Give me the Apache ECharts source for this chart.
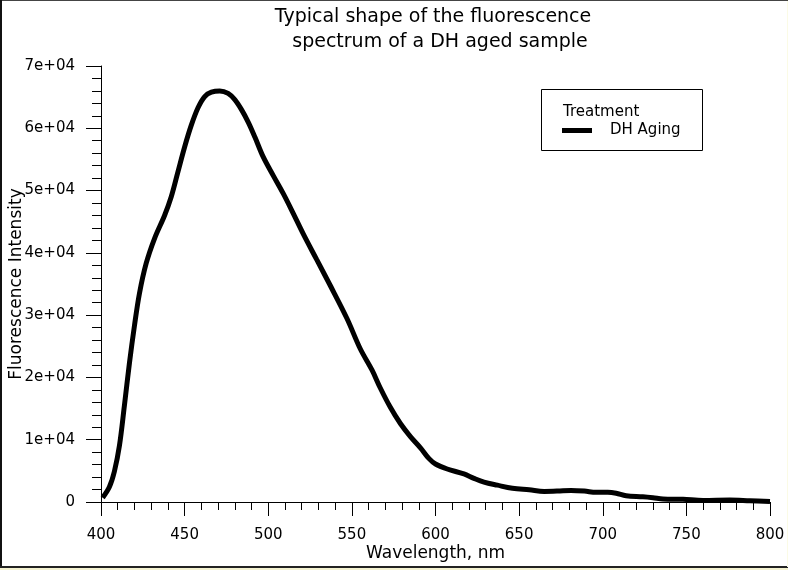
<!DOCTYPE html>
<html>
<head>
<meta charset="utf-8">
<script src="https://cdn.jsdelivr.net/npm/echarts@6/dist/echarts.min.js"></script>
<style>
  html, body { margin: 0; padding: 0; background: #ffffff; }
  #chart { width: 788px; height: 570px; }
</style>
</head>
<body>
<div id="chart"></div>
<script>
// Emission spectrum of a DH aged sample: wavelength (nm) and intensity
const wavelengths = [401, 405, 408, 411, 414, 417, 420, 423, 427, 432, 438, 442, 446, 450,
  454, 458, 462, 466, 471, 476, 480, 484, 488, 492, 497, 503, 509, 515, 521, 529, 537, 547,
  555, 562, 567, 573, 579, 585, 591, 596, 600, 607, 617, 623, 629, 637, 646, 656, 665, 673,
  681, 689, 696, 703, 708, 714, 724, 730, 736, 748, 760, 776, 788, 800];
const intensity = [700, 2400, 4900, 9000, 15500, 22300, 28300, 33500, 38300, 42300, 46000,
  49000, 53000, 57000, 60500, 63300, 65100, 65800, 66000, 65600, 64600, 63000, 61000, 58600,
  55400, 52400, 49500, 46300, 43000, 38900, 34800, 29500, 24600, 21200, 18300, 15200, 12600,
  10500, 8700, 7000, 6100, 5300, 4500, 3800, 3200, 2700, 2200, 1950, 1700, 1750, 1850, 1750,
  1550, 1550, 1400, 1000, 850, 700, 500, 430, 250, 320, 200, 80];
const seriesName = 'DH Aging';
const legendTitle = 'Treatment';
const titleLines = ['Typical shape of the fluorescence', 'spectrum of a DH aged sample'];
const xTicks = { min: 400, max: 800, step: 50 };
const yTicks = { min: 0, max: 70000, step: 10000 };

const chart = echarts.init(document.getElementById('chart'));
const font = 'DejaVu Sans, sans-serif';
const titleStyle = { fontFamily: font, fontWeight: 'normal', fontSize: 19, color: '#000' };

chart.setOption({
  animation: false,
  backgroundColor: '#ffffff',
  title: [
    { text: titleLines[0], left: 428, top: 3, textAlign: 'center', textStyle: titleStyle },
    { text: titleLines[1], left: 435, top: 28, textAlign: 'center', textStyle: titleStyle }
  ],
  grid: { left: 101, right: 18, top: 66, bottom: 68, outerBoundsMode: 'none', containLabel: false },
  legend: {
    data: [{ name: seriesName, icon: 'rect' }],
    left: 557, top: 118,
    itemWidth: 30, itemHeight: 5,
    textStyle: { fontFamily: font, fontSize: 15, color: '#000', padding: [0, 0, 0, 13] }
  },
  xAxis: {
    type: 'value', min: xTicks.min, max: xTicks.max, interval: xTicks.step,
    name: 'Wavelength, nm', nameLocation: 'middle', nameGap: 43, nameMoveOverlap: false,
    nameTextStyle: { fontFamily: font, fontSize: 17, color: '#000' },
    axisLine: { lineStyle: { color: '#000', width: 1 } },
    axisTick: { inside: false, length: 14, lineStyle: { color: '#000' } },
    minorTick: { show: true, splitNumber: 5, length: 8, lineStyle: { color: '#000' } },
    axisLabel: { fontFamily: font, fontSize: 15, color: '#000', margin: 26 },
    splitLine: { show: false }
  },
  yAxis: {
    type: 'value', min: yTicks.min, max: yTicks.max, interval: yTicks.step,
    name: 'Fluorescence Intensity', nameLocation: 'middle', nameGap: 76, nameRotate: 90,
    nameMoveOverlap: false,
    nameTextStyle: { fontFamily: font, fontSize: 17, color: '#000' },
    axisLine: { show: true, lineStyle: { color: '#000', width: 1 } },
    axisTick: { inside: false, length: 15, lineStyle: { color: '#000' } },
    minorTick: { show: true, splitNumber: 5, length: 9, lineStyle: { color: '#000' } },
    axisLabel: {
      fontFamily: font, fontSize: 15, color: '#000', margin: 26,
      formatter: v => v === 0 ? '0' : (v / 10000) + 'e+04'
    },
    splitLine: { show: false }
  },
  series: [{
    name: seriesName,
    type: 'line',
    data: wavelengths.map((w, i) => [w, intensity[i]]),
    smooth: 0.35,
    showSymbol: false,
    symbol: 'none',
    lineStyle: { color: '#000', width: 5 },
    itemStyle: { color: '#000' }
  }],
  graphic: [
    // legend frame and heading
    { type: 'rect', shape: { x: 541.5, y: 89.5, width: 161, height: 61 },
      style: { fill: 'none', stroke: '#000', lineWidth: 1 } },
    { type: 'text', left: 563, top: 105,
      style: { text: legendTitle, font: '15px DejaVu Sans, sans-serif', fill: '#000' } },
    // page frame
    { type: 'rect', shape: { x: 0, y: 0, width: 788, height: 1 }, style: { fill: '#444' } },
    { type: 'rect', shape: { x: 0, y: 0, width: 2, height: 568 }, style: { fill: '#111' } },
    { type: 'rect', shape: { x: 0, y: 566, width: 788, height: 2 }, style: { fill: '#222' } },
    { type: 'rect', shape: { x: 0, y: 568, width: 788, height: 2 }, style: { fill: '#f4f2d0' } },
    { type: 'rect', shape: { x: 787, y: 1, width: 1, height: 566 }, style: { fill: '#fbfbe6' } }
  ]
});
</script>
</body>
</html>
